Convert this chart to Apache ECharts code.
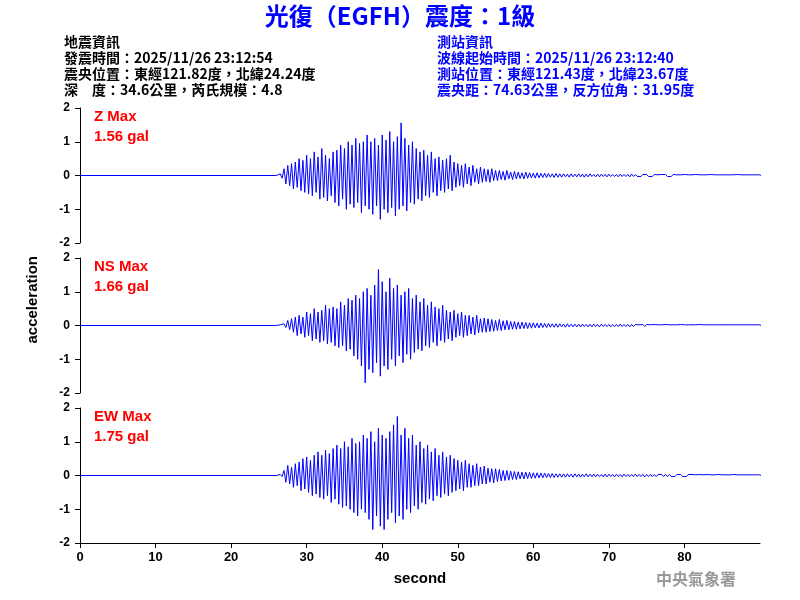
<!DOCTYPE html>
<html>
<head>
<meta charset="utf-8">
<script src="https://cdn.jsdelivr.net/npm/echarts@6.0.0/dist/echarts.min.js"></script>
<style>
  body, html { margin: 0; padding: 0; background: #fff; }
  #chart { width: 800px; height: 600px; }
</style>
</head>
<body>
<div id="chart"></div>
<script>
// samples every 0.5 s from 26 s to 90 s (peak up, then peak down 0.25 s later)
var startT = 26, stepT = 0.5;
var zPos = [0.02,0.05,0.2,0.3,0.35,0.4,0.5,0.45, 0.6,0.5,0.7,0.55,0.8,0.6,0.5,0.7, 0.75,0.9,0.8,1.0,0.9,1.1,0.95,1.0,
  1.2,1.0,1.1,0.9,1.2,1.05,1.3,1.0, 1.15,1.56,1.1,0.9,1.0,0.8,0.7,0.75, 0.6,0.7,0.5,0.55,0.45,0.5,0.6,0.4,
  0.35,0.3,0.35,0.25,0.3,0.2,0.25,0.2, 0.18,0.2,0.15,0.15,0.12,0.15,0.1,0.12, 0.1,0.08,0.1,0.08,0.07,0.08,0.06,0.07,
  0.06,0.05,0.06,0.05,0.05,0.04,0.05,0.04,
  0.05,0.04,0.04,0.05,0.03,0.04,0.04,0.03,0.04,0.03, 0.03,0.04,0.03,0.03,0.04,0.03,0.02,0.03,0.03,0.02,
  0.03,0.02,0.03,0.03,0.02,0.03,0.02,0.02,0.03,0.02, 0.02,0.03,0.02,0.02,0.02,0.03,0.02,0.02,0.02,0.02,
  0.02,0.02,0.03,0.02,0.02,0.02,0.02,0.02,0.02];
var zNeg = [0.03,0.08,0.25,0.3,0.4,0.35,0.45,0.5, 0.55,0.6,0.5,0.7,0.65,0.75,0.6,0.8, 0.9,0.7,1.0,0.85,0.95,0.8,1.1,0.9,
  1.0,1.15,0.9,1.3,1.0,1.1,0.95,1.2, 1.0,0.9,1.05,0.8,0.85,0.7,0.75,0.6, 0.65,0.5,0.6,0.45,0.5,0.4,0.45,0.35,
  0.3,0.35,0.25,0.3,0.2,0.25,0.2,0.18, 0.2,0.15,0.15,0.12,0.14,0.1,0.12,0.1, 0.09,0.1,0.08,0.07,0.08,0.07,0.06,0.06,
  0.05,0.06,0.05,0.05,0.04,0.05,0.04,0.04,
  0.04,0.05,0.04,0.03,0.04,0.04,0.03,0.04,0.03,0.03, 0.04,0.03,0.03,0.04,0.03,0.03,0.03,0.02,0.03,0.03,
  0.02,0.03,0.02,0.03,0.03,0.02,0.02,0.03,0.02,0.02, 0.03,0.02,0.02,0.02,0.03,0.02,0.02,0.02,0.02,0.02,
  0.02,0.02,0.02,0.03,0.02,0.02,0.02,0.02,0.02];
var nsPos = [0.01,0.02,0.05,0.15,0.2,0.25,0.3,0.25, 0.4,0.35,0.5,0.4,0.45,0.6,0.5,0.55, 0.5,0.7,0.6,0.8,0.75,0.9,0.8,1.0,
  1.1,0.9,1.2,1.66,1.3,1.0,1.4,1.1, 1.2,0.9,1.0,1.1,0.8,0.9,0.7,0.8, 0.6,0.7,0.55,0.5,0.6,0.45,0.4,0.45,
  0.35,0.4,0.3,0.3,0.25,0.3,0.2,0.22, 0.2,0.18,0.15,0.18,0.14,0.15,0.12,0.12, 0.1,0.1,0.09,0.08,0.08,0.07,0.07,0.06,
  0.06,0.05,0.05,0.05,0.04,0.05,0.04,0.04,
  0.04,0.04,0.03,0.04,0.04,0.03,0.04,0.03,0.03,0.03, 0.03,0.04,0.03,0.03,0.03,0.03,0.02,0.03,0.03,0.02,
  0.03,0.02,0.02,0.03,0.02,0.02,0.02,0.03,0.02,0.02, 0.02,0.02,0.03,0.02,0.02,0.02,0.02,0.02,0.02,0.02,
  0.02,0.02,0.02,0.02,0.02,0.02,0.02,0.02,0.02];
var nsNeg = [0.01,0.02,0.06,0.12,0.2,0.3,0.25,0.35, 0.3,0.45,0.4,0.5,0.45,0.55,0.5,0.6, 0.65,0.6,0.75,0.7,0.9,1.0,1.2,1.7,
  1.3,1.4,1.1,1.5,1.2,1.3,1.0,1.2, 0.9,1.1,0.85,1.0,0.8,0.7,0.75,0.6, 0.65,0.5,0.6,0.45,0.5,0.4,0.45,0.35,
  0.3,0.35,0.3,0.25,0.28,0.22,0.2,0.2, 0.18,0.17,0.15,0.15,0.13,0.13,0.11,0.11, 0.1,0.09,0.09,0.08,0.07,0.07,0.06,0.06,
  0.05,0.05,0.05,0.04,0.05,0.04,0.04,0.04,
  0.04,0.03,0.04,0.04,0.03,0.04,0.03,0.03,0.04,0.03, 0.03,0.03,0.03,0.04,0.03,0.02,0.03,0.03,0.02,0.03,
  0.02,0.03,0.02,0.02,0.03,0.02,0.02,0.02,0.02,0.03, 0.02,0.02,0.02,0.02,0.02,0.03,0.02,0.02,0.02,0.02,
  0.02,0.02,0.02,0.02,0.02,0.02,0.02,0.02,0.02];
var ewPos = [0.01,0.03,0.15,0.3,0.25,0.35,0.4,0.5, 0.55,0.45,0.6,0.7,0.6,0.75,0.65,0.8, 0.9,0.8,1.0,0.85,1.1,0.95,1.0,1.2,
  1.1,1.3,1.0,1.4,1.2,1.1,1.3,1.5, 1.75,1.2,1.4,1.1,1.2,0.9,1.0,0.8, 0.9,0.7,0.8,0.6,0.7,0.55,0.6,0.5,
  0.45,0.4,0.45,0.35,0.3,0.35,0.25,0.28, 0.22,0.2,0.2,0.18,0.15,0.15,0.13,0.12, 0.11,0.1,0.1,0.09,0.08,0.08,0.07,0.07,
  0.06,0.06,0.05,0.05,0.05,0.05,0.04,0.05,
  0.04,0.04,0.05,0.04,0.04,0.04,0.03,0.04,0.04,0.03, 0.04,0.03,0.04,0.03,0.03,0.04,0.03,0.03,0.03,0.03,
  0.03,0.03,0.03,0.03,0.03,0.02,0.03,0.03,0.02,0.03, 0.03,0.02,0.03,0.02,0.03,0.02,0.02,0.03,0.02,0.02,
  0.02,0.03,0.02,0.02,0.02,0.02,0.02,0.02,0.02];
var ewNeg = [0.01,0.03,0.2,0.25,0.35,0.3,0.45,0.4, 0.5,0.6,0.55,0.65,0.7,0.6,0.8,0.7, 0.85,0.95,0.9,1.0,1.1,1.2,1.0,1.1,
  1.3,1.6,1.2,1.5,1.6,1.3,1.1,1.4, 1.2,1.3,1.0,1.1,0.9,1.0,0.8,0.85, 0.7,0.75,0.6,0.65,0.55,0.6,0.5,0.45,
  0.4,0.45,0.35,0.35,0.3,0.3,0.25,0.25, 0.2,0.22,0.18,0.16,0.15,0.14,0.12,0.12, 0.1,0.1,0.09,0.09,0.08,0.07,0.07,0.06,
  0.06,0.06,0.05,0.05,0.05,0.04,0.05,0.04,
  0.05,0.04,0.04,0.04,0.04,0.03,0.04,0.04,0.03,0.04, 0.03,0.04,0.03,0.03,0.03,0.03,0.03,0.04,0.03,0.03,
  0.03,0.02,0.03,0.03,0.03,0.03,0.02,0.03,0.03,0.02, 0.02,0.03,0.02,0.03,0.02,0.02,0.03,0.02,0.02,0.02,
  0.02,0.02,0.02,0.03,0.02,0.02,0.02,0.02,0.02];

var channels = ["Z Max", "NS Max", "EW Max"];
var peaks = ["1.56 gal", "1.66 gal", "1.75 gal"];

function trace(pos, neg) {
  var d = [[0, 0], [startT, 0]];
  for (var i = 0; i < pos.length; i++) {
    var t = startT + i * stepT;
    d.push([t, pos[i]]);
    d.push([t + stepT / 2, -neg[i]]);
  }
  return d;
}
var traces = [trace(zPos, zNeg), trace(nsPos, nsNeg), trace(ewPos, ewNeg)];

var tops = [108, 258, 408];
var grids = [], xAxes = [], yAxes = [], series = [];
var lbl = { color: "#000", fontWeight: "bold", fontSize: 12, fontFamily: "Liberation Sans" };
tops.forEach(function (top, i) {
  var last = i == 2;
  grids.push({ left: 80, width: 680, top: top, height: 135 });
  xAxes.push({
    gridIndex: i, type: "value", min: 0, max: 90, interval: 10,
    show: last,
    axisLine: { onZero: false, lineStyle: { color: "#000" } },
    axisTick: { lineStyle: { color: "#000" } },
    axisLabel: Object.assign({ showMaxLabel: false }, lbl, { fontSize: 13 }),
    splitLine: { show: false },
    name: last ? "second" : "", nameLocation: "middle", nameGap: 28,
    nameTextStyle: { color: "#000", fontWeight: "bold", fontSize: 15, fontFamily: "Liberation Sans" }
  });
  yAxes.push({
    gridIndex: i, type: "value", min: -2, max: 2, interval: 1,
    axisLine: { show: true, lineStyle: { color: "#000" } },
    axisTick: { show: true, lineStyle: { color: "#000" } },
    axisLabel: Object.assign({ margin: 10 }, lbl),
    splitLine: { show: false }
  });
  series.push({
    type: "line", xAxisIndex: i, yAxisIndex: i, data: traces[i],
    showSymbol: false, animation: false,
    lineStyle: { color: "#0000ff", width: 1 }
  });
});

var graphic = [
  { type: "text", left: "center", top: 4, style: { text: "光復（EGFH）震度：1級", fill: "#0000ff",
    font: "bold 24px 'Noto Sans CJK TC'" } }
];
var leftInfo = ["地震資訊", "發震時間：2025/11/26 23:12:54", "震央位置：東經121.82度，北緯24.24度", "深　度：34.6公里，芮氏規模：4.8"];
var rightInfo = ["測站資訊", "波線起始時間：2025/11/26 23:12:40", "測站位置：東經121.43度，北緯23.67度", "震央距：74.63公里，反方位角：31.95度"];
leftInfo.forEach(function (s, k) {
  graphic.push({ type: "text", left: 64, top: 35 + k * 16, style: { text: s, fill: "#000", font: "bold 14px 'Noto Sans CJK TC'" } });
});
rightInfo.forEach(function (s, k) {
  graphic.push({ type: "text", left: 437, top: 35 + k * 16, style: { text: s, fill: "#0000ff", font: "bold 14px 'Noto Sans CJK TC'" } });
});
tops.forEach(function (top, i) {
  graphic.push({ type: "text", left: 94, top: top + 1, style: { text: channels[i], fill: "#ff0000", font: "bold 15px 'Liberation Sans'" } });
  graphic.push({ type: "text", left: 94, top: top + 21, style: { text: peaks[i], fill: "#ff0000", font: "bold 15px 'Liberation Sans'" } });
});
graphic.push({ type: "text", left: 25, top: 256, rotation: Math.PI / 2,
  style: { text: "acceleration", fill: "#000", font: "bold 15px 'Liberation Sans'" } });
graphic.push({ type: "text", left: 656, top: 571, style: { text: "中央氣象署", fill: "#999", font: "bold 16px 'Noto Sans CJK TC'" } });

var chart = echarts.init(document.getElementById("chart"));
chart.setOption({
  animation: false,
  backgroundColor: "#fff",
  grid: grids, xAxis: xAxes, yAxis: yAxes, series: series, graphic: graphic
});
</script>
</body>
</html>
